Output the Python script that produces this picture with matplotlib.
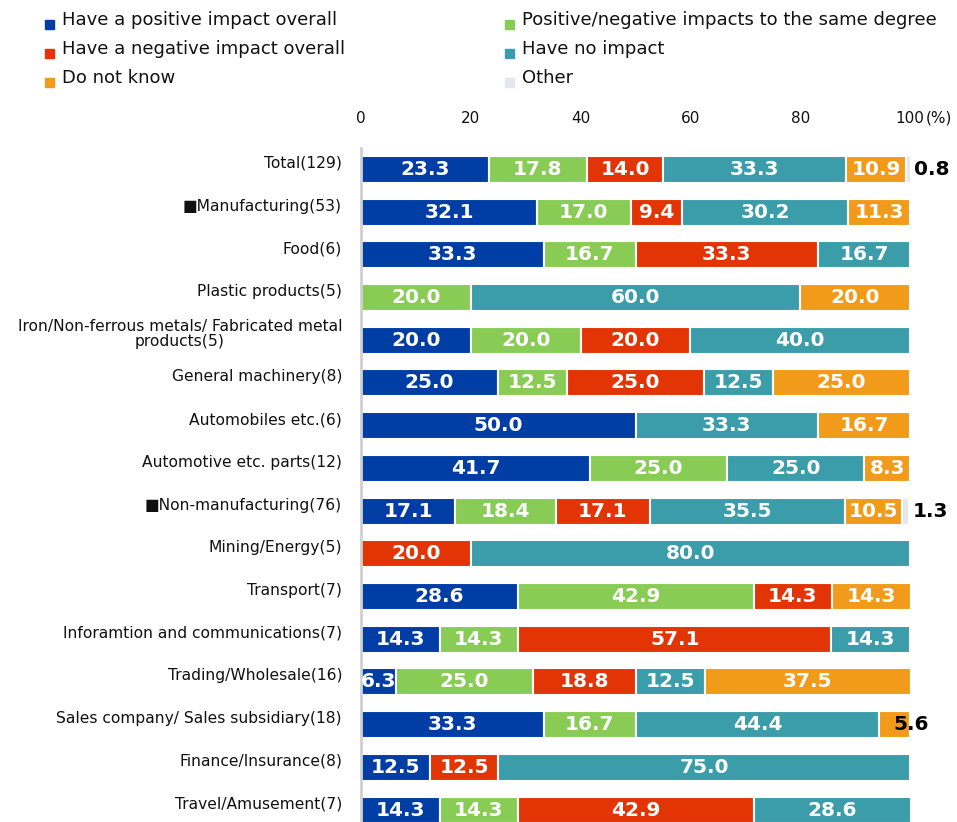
import numpy as np
import matplotlib
matplotlib.use("Agg")
import matplotlib.pyplot as plt
import matplotlib.transforms as mtransforms
from matplotlib.patches import Rectangle

# Datos (%)
categories = [
    "Total(129)", "\u25a0Manufacturing(53)", "Food(6)", "Plastic products(5)",
    "Iron/Non-ferrous metals/ Fabricated metal\nproducts(5)", "General machinery(8)",
    "Automobiles etc.(6)", "Automotive etc. parts(12)", "\u25a0Non-manufacturing(76)",
    "Mining/Energy(5)", "Transport(7)", "Inforamtion and communications(7)",
    "Trading/Wholesale(16)", "Sales company/ Sales subsidiary(18)",
    "Finance/Insurance(8)", "Travel/Amusement(7)",
]
series_names = [
    "Have a positive impact overall", "Positive/negative impacts to the same degree",
    "Have a negative impact overall", "Have no impact", "Do not know", "Other",
]
positive = [23.3, 32.1, 33.3, 0, 20.0, 25.0, 50.0, 41.7, 17.1, 0, 28.6, 14.3, 6.3, 33.3, 12.5, 14.3]
same_deg = [17.8, 17.0, 16.7, 20.0, 20.0, 12.5, 0, 25.0, 18.4, 0, 42.9, 14.3, 25.0, 16.7, 0, 14.3]
negative = [14.0, 9.4, 33.3, 0, 20.0, 25.0, 0, 0, 17.1, 20.0, 14.3, 57.1, 18.8, 0, 12.5, 42.9]
no_impact = [33.3, 30.2, 16.7, 60.0, 40.0, 12.5, 33.3, 25.0, 35.5, 80.0, 0, 14.3, 12.5, 44.4, 75.0, 28.6]
dont_know = [10.9, 11.3, 0, 20.0, 0, 25.0, 16.7, 8.3, 10.5, 0, 14.3, 0, 37.5, 5.6, 0, 0]
other = [0.8, 0, 0, 0, 0, 0, 0, 0, 1.3, 0, 0, 0, 0, 0, 0, 0]

colors = ["#003DA5", "#88CC55", "#E23405", "#3A9DA9", "#F29B1B", "#E4E7EE"]
data = [positive, same_deg, negative, no_impact, dont_know, other]

W, H = 957, 822
fig = plt.figure(figsize=(W / 100, H / 100), dpi=100)
ax = fig.add_axes([361 / W, 0, 549 / W, 674 / H])

y = np.arange(len(categories))
left = np.zeros(len(categories))
for k, (vals, col) in enumerate(zip(data, colors)):
    vals = np.array(vals, dtype=float)
    m = vals > 0
    ax.barh(y[m], vals[m], left=left[m], height=0.63, color=col,
            edgecolor="white", linewidth=1.5)
    for yi, v, l in zip(y[m], vals[m], left[m]):
        txt = f"{v:.1f}"
        if k == 5:
            ax.text(l + v + 0.6, yi, txt, ha="left", va="center",
                    fontsize=14.5, fontweight="bold", color="black")
        elif v < 6:
            ax.text(l + v + 0.3, yi, txt, ha="center", va="center",
                    fontsize=14.5, fontweight="bold", color="black")
        else:
            ax.text(l + v / 2, yi, txt, ha="center", va="center",
                    fontsize=14.5, fontweight="bold", color="white")
    left += vals

ax.set_xlim(0, 100)
ax.set_ylim(15.28, -0.5)
ax.set_yticks([])
# etiquetas de categoría: a la izquierda del eje y un poco por encima del centro
lab_tr = ax.get_yaxis_transform() + mtransforms.ScaledTranslation(
    -0.19, 0.06, fig.dpi_scale_trans)
for yi, cat in zip(y, categories):
    ax.text(0, yi, cat, transform=lab_tr, ha="right", va="center",
            multialignment="center", fontsize=11.2, color="#111111",
            linespacing=1.0)

ax.set_xticks([0, 20, 40, 60, 80, 100])
ax.set_xticklabels(["0", "20", "40", "60", "80", "100"], fontsize=11, color="#111111")
ax.xaxis.tick_top()
ax.tick_params(axis="x", length=0, pad=16)
for s in ["top", "right", "bottom"]:
    ax.spines[s].set_visible(False)
ax.spines["left"].set_color("#D0D0D0")
ax.spines["left"].set_linewidth(2)
fig.text(926 / W, 1 - 118 / H, "(%)", ha="left", va="center", fontsize=11, color="#111111")

# Leyenda manual (2 columnas x 3 filas)
order = [0, 2, 4, 1, 3, 5]
col_x = [45, 505]
row_y = [20, 49, 78]
for i, s in enumerate(order):
    cx = col_x[i // 3]
    ry = row_y[i % 3]
    fig.patches.append(Rectangle((cx / W, 1 - (ry + 9) / H), 9 / W, 9 / H,
                                 transform=fig.transFigure, color=colors[s]))
    fig.text((cx + 17) / W, 1 - ry / H, series_names[s], ha="left", va="center",
             fontsize=13, color="#111111")

fig.savefig("out.png", dpi=100, facecolor="white")
